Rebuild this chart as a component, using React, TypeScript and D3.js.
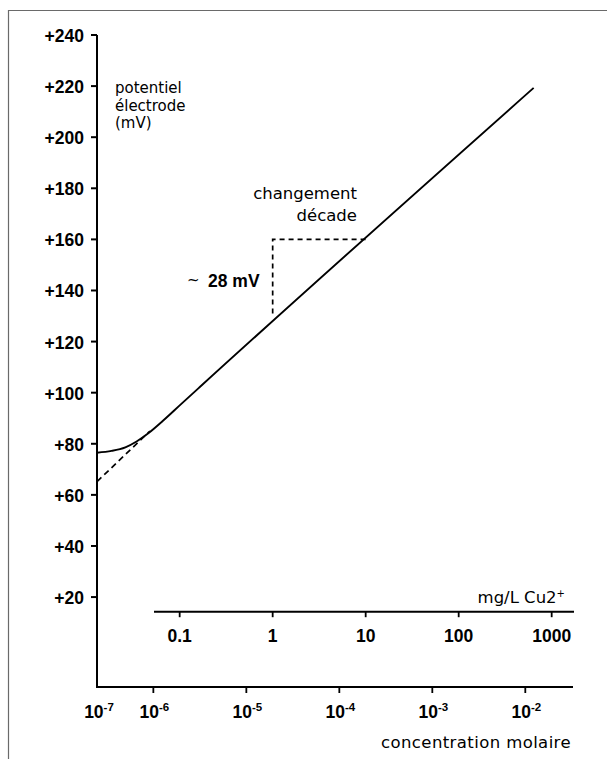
import React from 'react'
import * as d3 from 'd3'

// electrode response (molar concentration, mV)
const curveConc = [2.48e-7, 3.55e-7, 5.0e-7, 6.6e-7, 8.9e-7, 1.26e-6, 2.0e-6, 3.16e-6, 1.23e-2];
const curveMv = [76.5, 77.2, 78.6, 80.9, 84.2, 88.9, 95.6, 102.2, 219.3];

// dashed extrapolation of the linear part down to the axis
const extraConc = [2.48e-7, 9.2e-7];
const extraMv = [65.2, 85.0];

const mvTicks = [20, 40, 60, 80, 100, 120, 140, 160, 180, 200, 220, 240];
const molarTicks = [1e-6, 1e-5, 1e-4, 1e-3, 1e-2];
const molarExp = ['-6', '-5', '-4', '-3', '-2'];
const mgTicks = [0.1, 1, 10, 100, 1000];
const mgLabels = ['0.1', '1', '10', '100', '1000'];

// one decade step shown with the dashed corner
const decadeMg = [1, 10];
const decadeMv = [160, 131];

const yTitle = ['potentiel', 'électrode', '(mV)'];
const stepTitle = ['changement', 'décade'];

const W = 607;
const H = 759;
const bold = '"Liberation Sans", Arial, sans-serif';
const plain = '"DejaVu Sans", Verdana, sans-serif';

export default function App() {
  const y = d3.scaleLinear().domain([-15.2, 240]).range([687, 35]);
  const x = d3.scaleLog().domain([Math.pow(10, -6.606), Math.pow(10, -1.487)]).range([97, 573]);
  const xMg = d3.scaleLog().domain([Math.pow(10, -1.276), Math.pow(10, 3.24)]).range([154, 574]);

  const [x0] = x.range();
  const [yBottom, yTop] = y.range();
  const mgLineY = 611.7;

  const line = d3.line<number>()
    .x((d, i) => x(curveConc[i]))
    .y(d => y(d))
    .curve(d3.curveMonotoneX);

  const extra = d3.line<number>()
    .x((d, i) => x(extraConc[i]))
    .y(d => y(d));

  const xa = xMg(decadeMg[0]);
  const xb = xMg(decadeMg[1]);

  return (
    <svg width={W} height={H} style={{position: 'absolute', left: 0, top: 0}}>
      <rect x={0} y={0} width={W} height={H} fill="#fff"/>
      {/* frame */}
      <path d={`M8.5,${H} V10.5 H${W}`} fill="none" stroke="#6a6a6a" strokeWidth={1.2}/>

      {/* axes */}
      <path d={`M${x0},${yTop} V${yBottom} H${x.range()[1]}`} fill="none" stroke="#000" strokeWidth={2}/>
      {mvTicks.map(v => (
        <g key={v}>
          <line x1={x0 - 6} x2={x0} y1={y(v)} y2={y(v)} stroke="#000" strokeWidth={2}/>
          <text x={84} y={y(v) + 7} textAnchor="end" fontFamily={bold} fontWeight="bold" fontSize={17.5}>
            {'+' + v}
          </text>
        </g>
      ))}

      {molarTicks.map((c, i) => (
        <g key={c}>
          <line x1={x(c)} x2={x(c)} y1={yBottom} y2={yBottom + 6} stroke="#000" strokeWidth={1.8}/>
          <text x={x(c) + 1} y={717.5} textAnchor="middle" fontFamily={bold} fontWeight="bold" fontSize={17.5}>
            10<tspan fontSize={11.5} dy={-7}>{molarExp[i]}</tspan>
          </text>
        </g>
      ))}
      <text x={x0 + 2} y={717.5} textAnchor="middle" fontFamily={bold} fontWeight="bold" fontSize={17.5}>
        10<tspan fontSize={11.5} dy={-7}>-7</tspan>
      </text>

      {/* mg/L axis */}
      <line x1={xMg.range()[0]} x2={xMg.range()[1]} y1={mgLineY} y2={mgLineY} stroke="#000" strokeWidth={2}/>
      {mgTicks.map((m, i) => (
        <g key={m}>
          <line x1={xMg(m)} x2={xMg(m)} y1={mgLineY} y2={mgLineY + 5.5} stroke="#000" strokeWidth={1.8}/>
          <text x={xMg(m)} y={642} textAnchor="middle" fontFamily={bold} fontWeight="bold" fontSize={17.5}>
            {mgLabels[i]}
          </text>
        </g>
      ))}
      <text x={565} y={603} textAnchor="end" fontFamily={plain} fontSize={16.5}>
        mg/L Cu2<tspan fontSize={10} dy={-6}>+</tspan>
      </text>

      {/* curve */}
      <path d={line(curveMv) || ''} fill="none" stroke="#000" strokeWidth={1.9}/>
      <path d={extra(extraMv) || ''} fill="none" stroke="#000" strokeWidth={1.7} strokeDasharray="6,4"/>

      {/* decade corner */}
      <path d={`M${xa},${y(decadeMv[1])} V${y(decadeMv[0])} H${xb}`} fill="none" stroke="#000"
            strokeWidth={1.7} strokeDasharray="5,4"/>

      {/* labels */}
      {yTitle.map((t, i) => (
        <text key={t} x={115} y={93 + i * 17.5} fontFamily={plain} fontSize={15}>{t}</text>
      ))}
      {stepTitle.map((t, i) => (
        <text key={t} x={357} y={199 + i * 21.7} textAnchor="end" fontFamily={plain} fontSize={16.5}>{t}</text>
      ))}
      <text x={187} y={285} fontFamily={plain} fontSize={15}>~</text>
      <text x={208} y={287} fontFamily={bold} fontWeight="bold" fontSize={17.5}>28 mV</text>
      <text x={571} y={747.5} textAnchor="end" fontFamily={plain} fontSize={16.5}
            letterSpacing={0.4}>concentration molaire</text>
    </svg>
  )
}
